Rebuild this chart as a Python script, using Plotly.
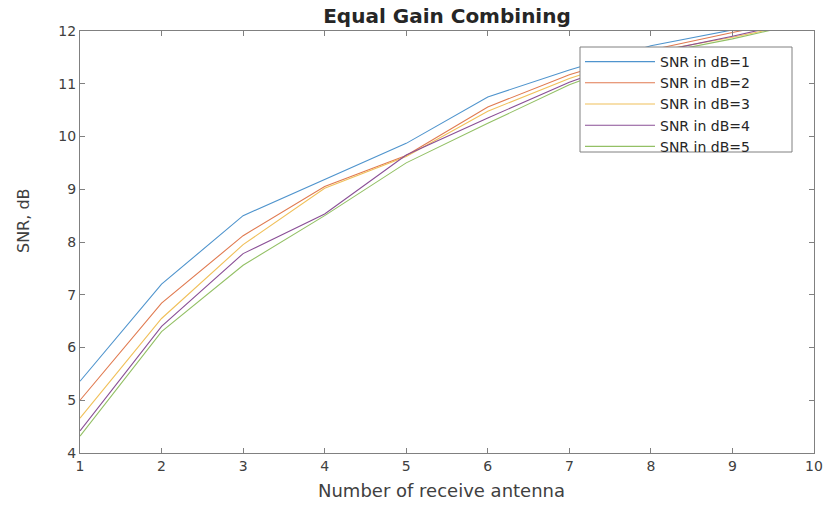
import plotly.graph_objects as go

antennas = [1, 2, 3, 4, 5, 6, 7, 8, 9, 10]
snr_db1 = [5.36, 7.20, 8.50, 9.18, 9.87, 10.75, 11.26, 11.72, 12.03, 12.32]
snr_db2 = [5.00, 6.84, 8.12, 9.05, 9.64, 10.56, 11.17, 11.64, 11.97, 12.30]
snr_db3 = [4.66, 6.55, 7.95, 9.02, 9.62, 10.48, 11.10, 11.60, 11.88, 12.20]
snr_db4 = [4.42, 6.40, 7.78, 8.53, 9.65, 10.35, 11.03, 11.58, 11.90, 12.25]
snr_db5 = [4.32, 6.30, 7.56, 8.50, 9.50, 10.25, 10.98, 11.55, 11.85, 12.20]
series_names = ["SNR in dB=1", "SNR in dB=2", "SNR in dB=3", "SNR in dB=4", "SNR in dB=5"]
series_values = [snr_db1, snr_db2, snr_db3, snr_db4, snr_db5]
colors = ["#4f94cd", "#e07a50", "#f0c05a", "#8a4f96", "#93c065"]

W, H = 825, 508
L, R, T, B = 80, 11, 31, 55
pw, ph = W - L - R, H - T - B

def px_x(p):
    return (p - L) / pw

def px_y(p):
    return (H - B - p) / ph

FONT = "DejaVu Sans, Liberation Sans, Arial"

fig = go.Figure()
for name, vals, c in zip(series_names, series_values, colors):
    fig.add_trace(go.Scatter(x=antennas, y=vals, mode="lines", name=name,
                             line=dict(color=c, width=1.1)))

axis_common = dict(showgrid=False, zeroline=False, showline=True, mirror="ticks",
                   linecolor="#808080", linewidth=1.2, ticks="inside", ticklen=5,
                   tickcolor="#808080", automargin=False,
                   tickfont=dict(family=FONT, size=14, color="#404040"))

fig.update_layout(
    width=W, height=H,
    margin=dict(l=L, r=R, t=T, b=B, autoexpand=False),
    paper_bgcolor="white", plot_bgcolor="white",
    title=dict(text="<b>Equal Gain Combining</b>", x=(L + W - R) / 2 / W, xanchor="center",
               y=1 - 16 / H, yanchor="middle", yref="container",
               font=dict(family=FONT, size=20, color="#262626")),
    xaxis=dict(range=[1, 10], dtick=1, **axis_common),
    yaxis=dict(range=[4, 12], dtick=1, **axis_common),
    legend=dict(x=px_x(580), y=px_y(46), xanchor="left", yanchor="top",
                bgcolor="rgba(0,0,0,0)", borderwidth=0,
                itemwidth=70, tracegroupgap=0,
                font=dict(family=FONT, size=14, color="#262626")),
    showlegend=True,
    shapes=[dict(type="rect", xref="paper", yref="paper",
                 x0=px_x(580), x1=px_x(792), y0=px_y(152), y1=px_y(47),
                 fillcolor="white", line=dict(color="#808080", width=1), layer="above")],
    annotations=[
        dict(text="Number of receive antenna", xref="paper", yref="paper",
             x=px_x(441), y=px_y(491), xanchor="center", yanchor="middle", showarrow=False,
             font=dict(family=FONT, size=18, color="#404040")),
        dict(text="SNR, dB", xref="paper", yref="paper", textangle=-90,
             x=px_x(23), y=px_y(221), xanchor="center", yanchor="middle", showarrow=False,
             font=dict(family=FONT, size=16, color="#404040")),
    ],
)

fig.write_html("out.html", config={"displayModeBar": False},
               post_script="document.body.style.margin='0';document.body.style.overflow='hidden';")
